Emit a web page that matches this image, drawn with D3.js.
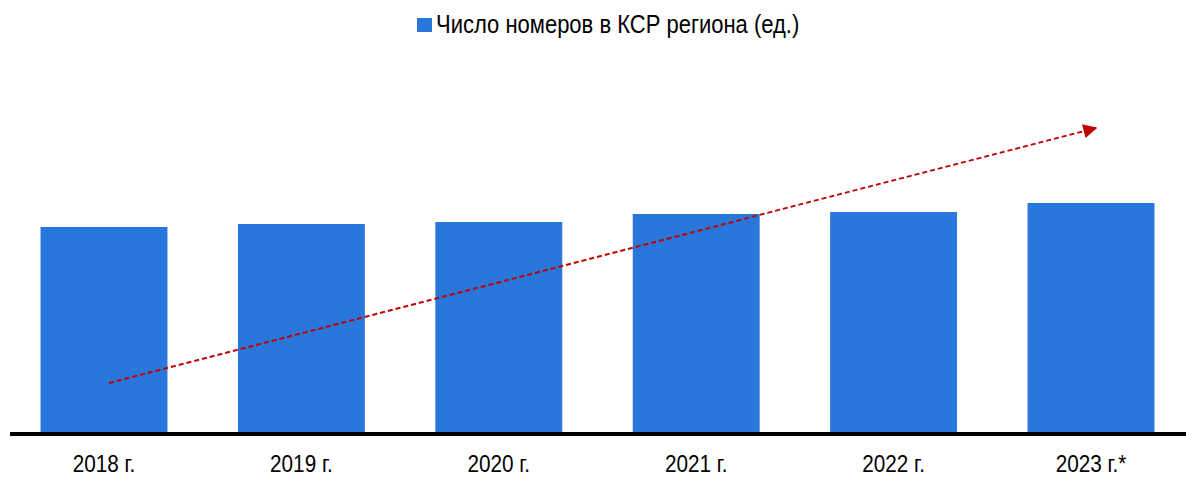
<!DOCTYPE html>
<html>
<head>
<meta charset="utf-8">
<script src="https://d3js.org/d3.v7.min.js"></script>
<style>
  body { margin: 0; background: #fff; }
  text { font-family: "Liberation Sans Narrow", "Arial Narrow", "Liberation Sans", Arial, sans-serif; fill: #000; }
</style>
</head>
<body>
<div id="chart"></div>
<script>
// Values (no value axis in the source)
var years = ['2018 г.', '2019 г.', '2020 г.', '2021 г.', '2022 г.', '2023 г.*'];
var rooms = [205, 208, 210, 218, 220, 229];
var seriesName = 'Число номеров в КСР региона (ед.)';
// trend arrow: start / end points in chart units
var trendYears = ['2018 г.', '2023 г.*'];
var trendValues = [49, 304];

var width = 1186, height = 477;
var baseline = 432;

var svg = d3.select('#chart').append('svg')
  .attr('width', width)
  .attr('height', height);

var x = d3.scaleBand()
  .domain(years)
  .range([5, 1190])
  .paddingInner(0.357)
  .paddingOuter(0.18);

var y = d3.scaleLinear()
  .domain([0, 229])
  .range([baseline, 203]);

var data = years.map(function(d, i) { return { year: d, value: rooms[i] }; });

// squeeze a regular sans so it looks like a narrow face
function squeeze(factor) {
  return function(sel) {
    sel.each(function() {
      var len = this.getComputedTextLength();
      d3.select(this)
        .attr('textLength', len * factor)
        .attr('lengthAdjust', 'spacingAndGlyphs');
    });
  };
}

// Bars
svg.append('g')
  .selectAll('rect')
  .data(data)
  .join('rect')
  .attr('x', function(d) { return x(d.year); })
  .attr('y', function(d) { return y(d.value); })
  .attr('width', x.bandwidth())
  .attr('height', function(d) { return baseline - y(d.value); })
  .attr('fill', '#2a77dc');

// Axis line
svg.append('line')
  .attr('x1', 10).attr('x2', width)
  .attr('y1', baseline + 2).attr('y2', baseline + 2)
  .attr('stroke', '#000')
  .attr('stroke-width', 4);

// Category labels
svg.append('g')
  .selectAll('text')
  .data(years)
  .join('text')
  .attr('x', function(d) { return x(d) + x.bandwidth() / 2; })
  .attr('y', 472)
  .attr('text-anchor', 'middle')
  .attr('font-size', 23)
  .text(function(d) { return d; })
  .call(squeeze(0.9));

// Trend arrow
var defs = svg.append('defs');
defs.append('marker')
  .attr('id', 'arrow')
  .attr('viewBox', '0 0 10 10')
  .attr('refX', 9).attr('refY', 5)
  .attr('markerWidth', 8).attr('markerHeight', 7)
  .attr('markerUnits', 'strokeWidth')
  .attr('orient', 'auto')
  .append('path')
  .attr('d', 'M0,0 L10,5 L0,10 z')
  .attr('fill', '#c00000');

var trend = trendYears.map(function(d, i) {
  return [x(d) + x.bandwidth() / 2 + 5, y(trendValues[i])];
});

svg.append('path')
  .attr('d', d3.line()(trend))
  .attr('fill', 'none')
  .attr('stroke', '#c00000')
  .attr('stroke-width', 2)
  .attr('stroke-dasharray', '5,3')
  .attr('marker-end', 'url(#arrow)');

// Legend
var legend = svg.append('g');
legend.append('rect')
  .attr('x', 417).attr('y', 18)
  .attr('width', 15).attr('height', 14)
  .attr('fill', '#2a77dc');
legend.append('text')
  .attr('x', 436).attr('y', 33)
  .attr('font-size', 25)
  .text(seriesName)
  .call(squeeze(0.88));
</script>
</body>
</html>
